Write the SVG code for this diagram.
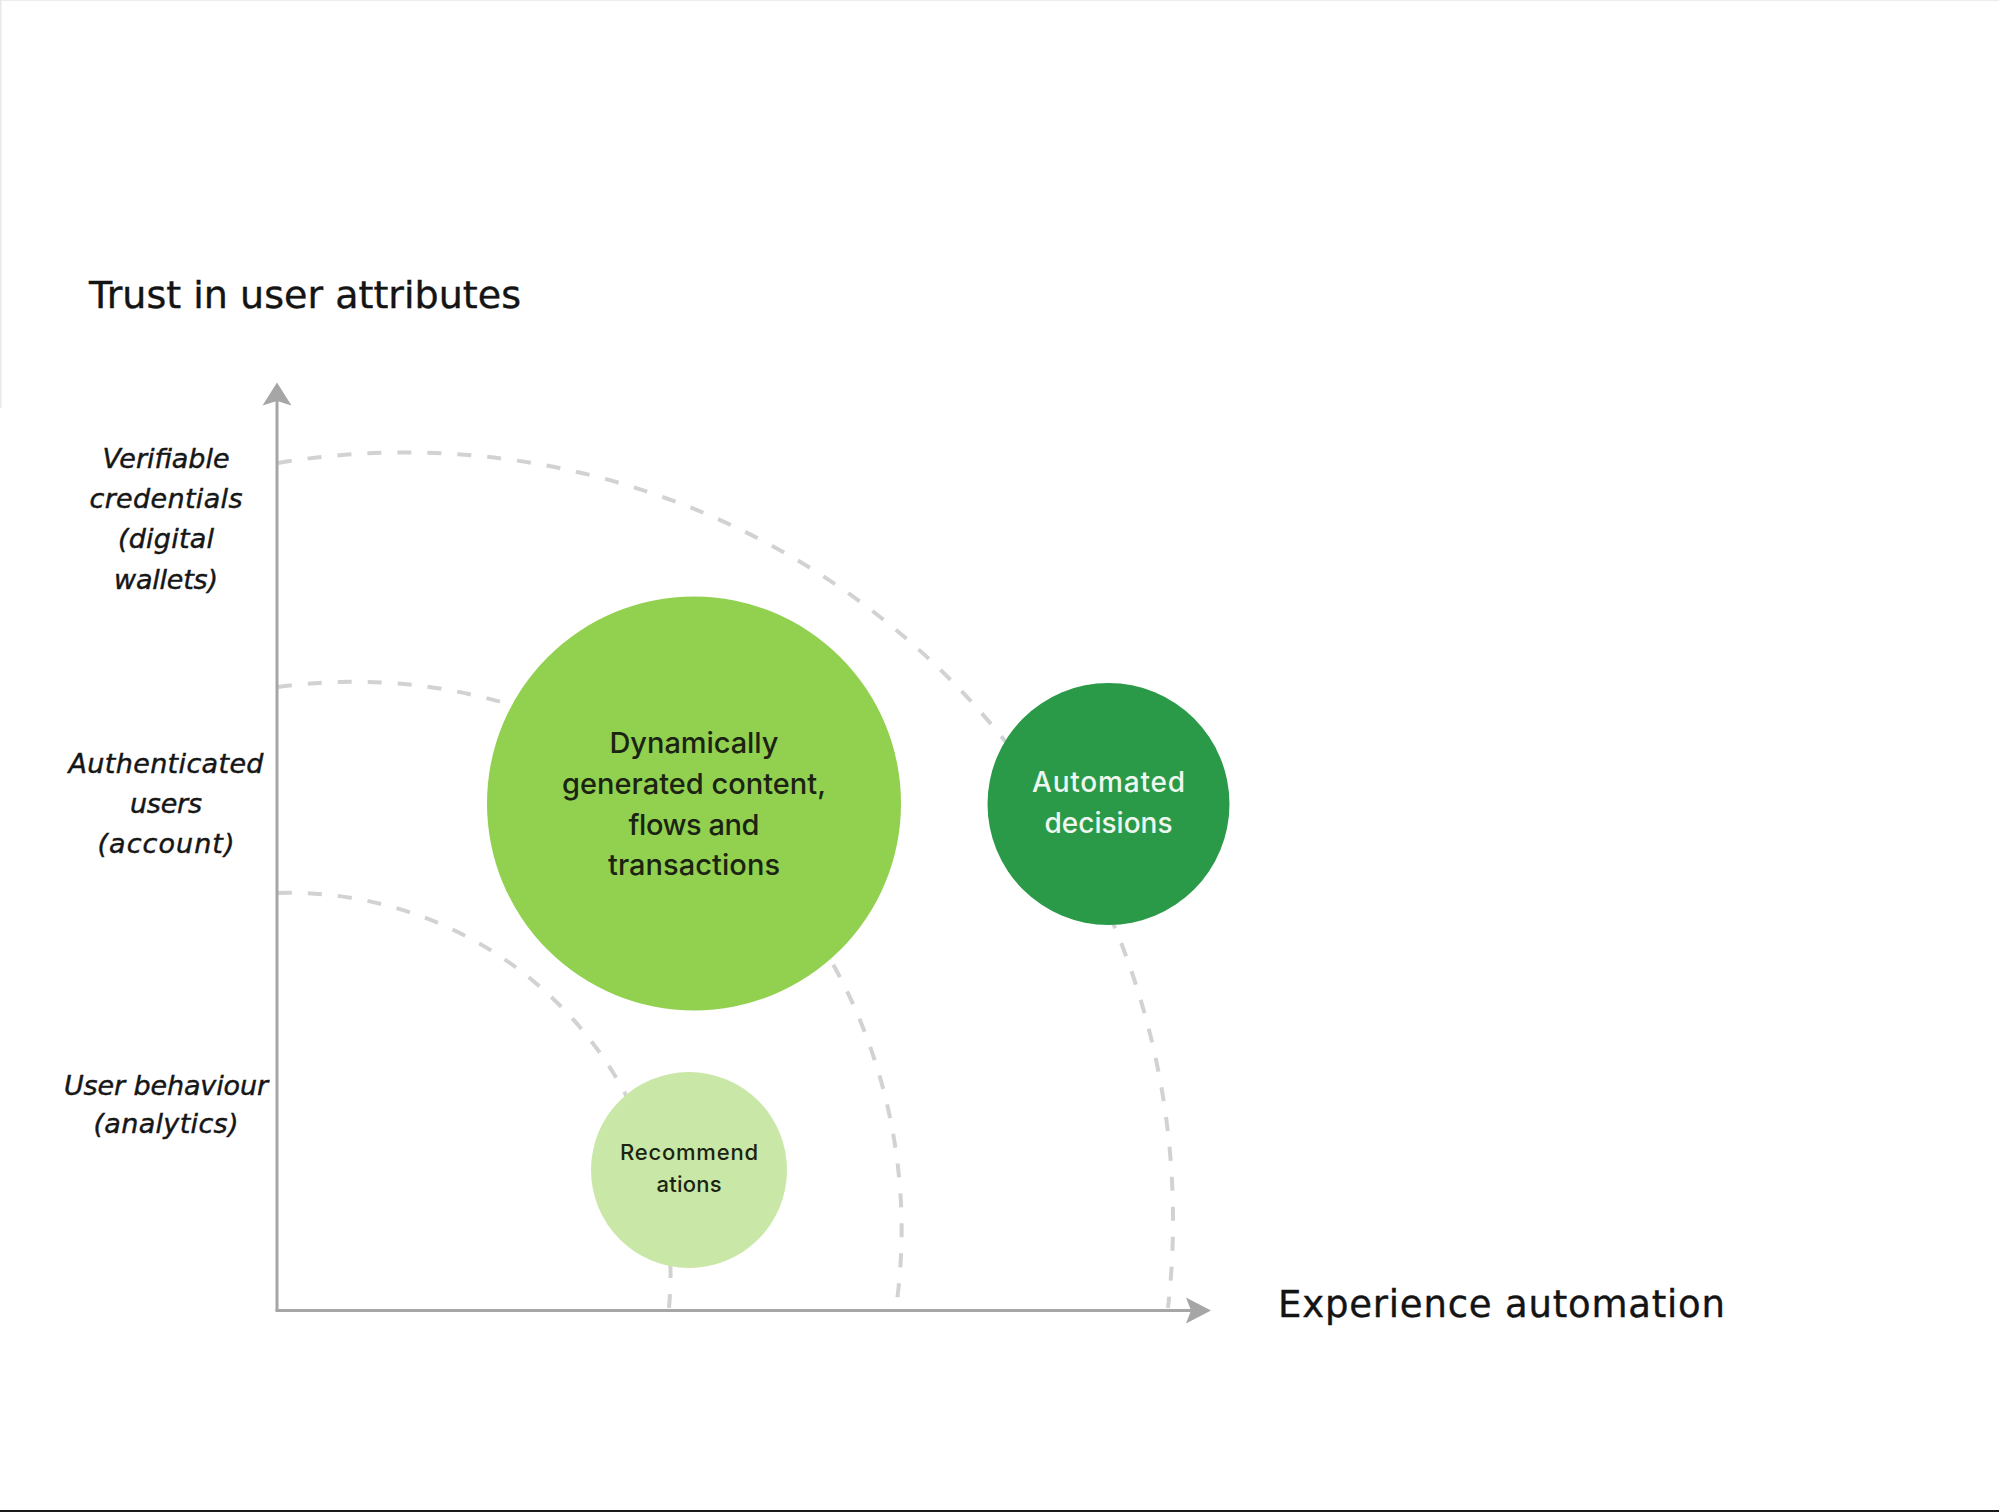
<svg xmlns="http://www.w3.org/2000/svg" width="1999" height="1512" viewBox="0 0 1999 1512">
  <style>
    .axis { stroke: #a6a6a6; stroke-width: 3; fill: none; }
    .arrow { fill: #a6a6a6; }
    .ring { stroke: #d2d2d2; stroke-width: 4; fill: none; stroke-dasharray: 14 16; }
    .lbl { font-family: "DejaVu Sans", "Liberation Sans", sans-serif; font-style: italic; font-size: 27px; fill: #161616; stroke: #161616; stroke-width: 0.45; text-anchor: middle; }
    .node { font-family: Inter, "Liberation Sans", sans-serif; font-weight: 500; text-anchor: middle; }
    .head { font-family: "DejaVu Sans", "Liberation Sans", sans-serif; fill: #141414; stroke: #141414; stroke-width: 0.4; }
  </style>
  <rect x="0" y="0" width="1999" height="1512" fill="#ffffff"/>
  <g id="frame">
    <line x1="0" y1="0.5" x2="1999" y2="0.5" stroke="#ececec" stroke-width="1"/>
    <line x1="0.75" y1="0" x2="0.75" y2="408" stroke="#e8e8e8" stroke-width="1.5"/>
    <line x1="0" y1="1511" x2="1999" y2="1511" stroke="#1a1a1a" stroke-width="2"/>
  </g>

  <g id="connectors">
    <path id="ring-outer" class="ring" d="M 278 463 A 768 768 0 0 1 1168 1308"/>
    <path id="ring-middle" class="ring" d="M 278 687 A 548 548 0 0 1 896 1308"/>
    <path id="ring-inner" class="ring" d="M 278 893 A 381 381 0 0 1 669 1308"/>
    <line class="axis" x1="277" y1="1310.5" x2="277" y2="400"/>
    <polygon class="arrow" points="277,382.5 291.5,405.5 277,401 262.5,405.5"/>
    <line class="axis" x1="275.5" y1="1310.5" x2="1194" y2="1310.5"/>
    <polygon class="arrow" points="1211,1310.5 1186,1323.5 1191,1310.5 1186,1297.5"/>
  </g>

  <g id="title-y">
    <text class="head" x="89" y="308" font-size="38" textLength="432">Trust in user attributes</text>
  </g>
  <g id="title-x">
    <text class="head" x="1278" y="1317" font-size="37" textLength="447">Experience automation</text>
  </g>

  <g id="level-verifiable">
    <text class="lbl" x="166" y="468" textLength="127">Verifiable</text>
    <text class="lbl" x="166" y="508" textLength="153">credentials</text>
    <text class="lbl" x="166" y="548" textLength="96">(digital</text>
    <text class="lbl" x="166" y="589" textLength="104">wallets)</text>
  </g>
  <g id="level-authenticated">
    <text class="lbl" x="166" y="773" textLength="195">Authenticated</text>
    <text class="lbl" x="166" y="813" textLength="72">users</text>
    <text class="lbl" x="166" y="853" textLength="137">(account)</text>
  </g>
  <g id="level-behaviour">
    <text class="lbl" x="166" y="1095" textLength="204">User behaviour</text>
    <text class="lbl" x="166" y="1133" textLength="145">(analytics)</text>
  </g>

  <g id="node-dynamic">
    <circle cx="694" cy="803.5" r="207" fill="#92d050"/>
    <text class="node" x="694" y="753" font-size="29" fill="#1b2412" textLength="169">Dynamically</text>
    <text class="node" x="694" y="794" font-size="29" fill="#1b2412" textLength="264">generated content,</text>
    <text class="node" x="694" y="835" font-size="29" fill="#1b2412" textLength="131">flows and</text>
    <text class="node" x="694" y="875" font-size="29" fill="#1b2412" textLength="172">transactions</text>
  </g>
  <g id="node-automated">
    <circle cx="1108.5" cy="804" r="121" fill="#2a9a48"/>
    <text class="node" x="1108.5" y="792" font-size="28" fill="#eef7ef" textLength="153">Automated</text>
    <text class="node" x="1108.5" y="833" font-size="28" fill="#eef7ef" textLength="128">decisions</text>
  </g>
  <g id="node-recommendations">
    <circle cx="689" cy="1170" r="98" fill="#c9e7a6"/>
    <text class="node" x="689" y="1160" font-size="22" fill="#1b2412" textLength="138">Recommend</text>
    <text class="node" x="689" y="1192" font-size="22" fill="#1b2412" textLength="65">ations</text>
  </g>
</svg>
